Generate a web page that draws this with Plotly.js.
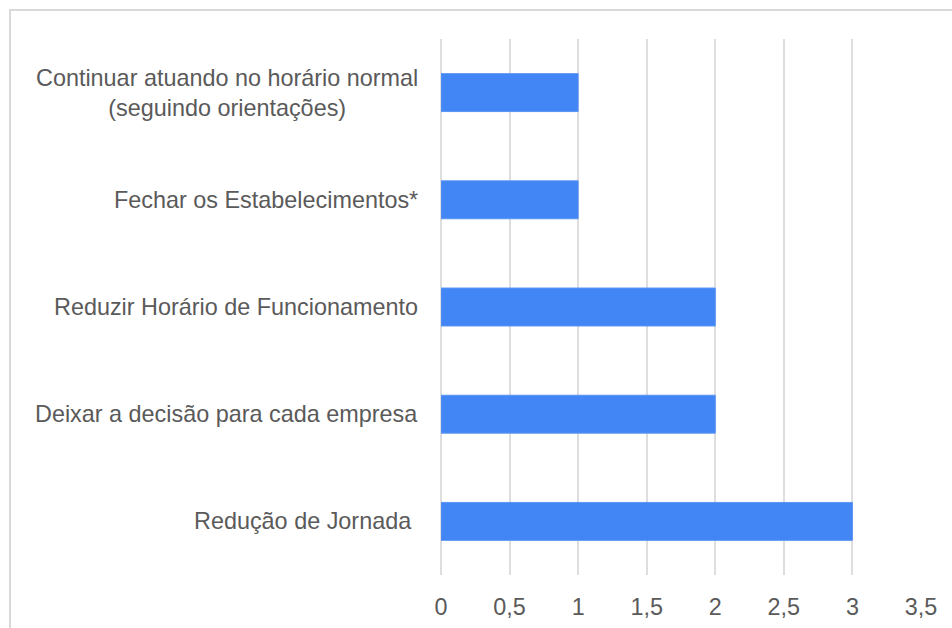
<!DOCTYPE html>
<html>
<head>
<meta charset="utf-8">
<script src="https://cdn.plot.ly/plotly-3.0.1.min.js"></script>
<style>
html,body{margin:0;padding:0;background:#fff;overflow:hidden;}
#wrap{position:relative;width:952px;height:628px;}
#chart{width:952px;height:628px;}
#frame{position:absolute;left:9px;top:9px;width:1000px;height:700px;border-left:2px solid #d9d9d9;border-top:2px solid #d9d9d9;pointer-events:none;}
</style>
</head>
<body>
<div id="wrap"><div id="chart"></div><div id="frame"></div></div>
<script>
const categories = [
  "Continuar atuando no horário normal<br>(seguindo orientações)",
  "Fechar os Estabelecimentos*",
  "Reduzir Horário de Funcionamento",
  "Deixar a decisão para cada empresa",
  "Redução de Jornada\u00a0"
];
const values = [1, 1, 2, 2, 3];
const tickValues = [0, 0.5, 1, 1.5, 2, 2.5, 3, 3.5];
const tickLabels = ["0", "0,5", "1", "1,5", "2", "2,5", "3", "3,5"];

const font = {family: "Liberation Sans, Arial, sans-serif", size: 23.4, color: "#5a5a5a"};

const trace = {
  type: "bar",
  orientation: "h",
  x: values,
  y: categories.map((c, i) => i),
  marker: {color: "#4285f4", line: {color: "#5b95f5", width: 1}},
  width: 0.354,
  hoverinfo: "none"
};

const annotations = categories.map((c, i) => ({
  xref: "paper", yref: "y", x: 0, y: i,
  xanchor: "right", yanchor: "middle", xshift: -21,
  text: c, align: "center", showarrow: false, font: font
}));

const layout = {
  width: 952, height: 628,
  margin: {l: 441, r: 31, t: 39, b: 53},
  paper_bgcolor: "#fff", plot_bgcolor: "#fff",
  showlegend: false,
  font: font,
  xaxis: {
    range: [0, 3.5], tickvals: tickValues, ticktext: tickLabels,
    showgrid: true, gridcolor: "#dedede", gridwidth: 2,
    zeroline: true, zerolinecolor: "#dedede", zerolinewidth: 2,
    showline: false, ticks: "", tickfont: font,
    ticklabelstandoff: 16, fixedrange: true
  },
  yaxis: {
    range: [4.5, -0.5], showticklabels: false, showgrid: false,
    zeroline: false, showline: false, ticks: "", fixedrange: true
  },
  annotations: annotations
};

Plotly.newPlot("chart", [trace], layout, {displayModeBar: false, staticPlot: true});
</script>
</body>
</html>
